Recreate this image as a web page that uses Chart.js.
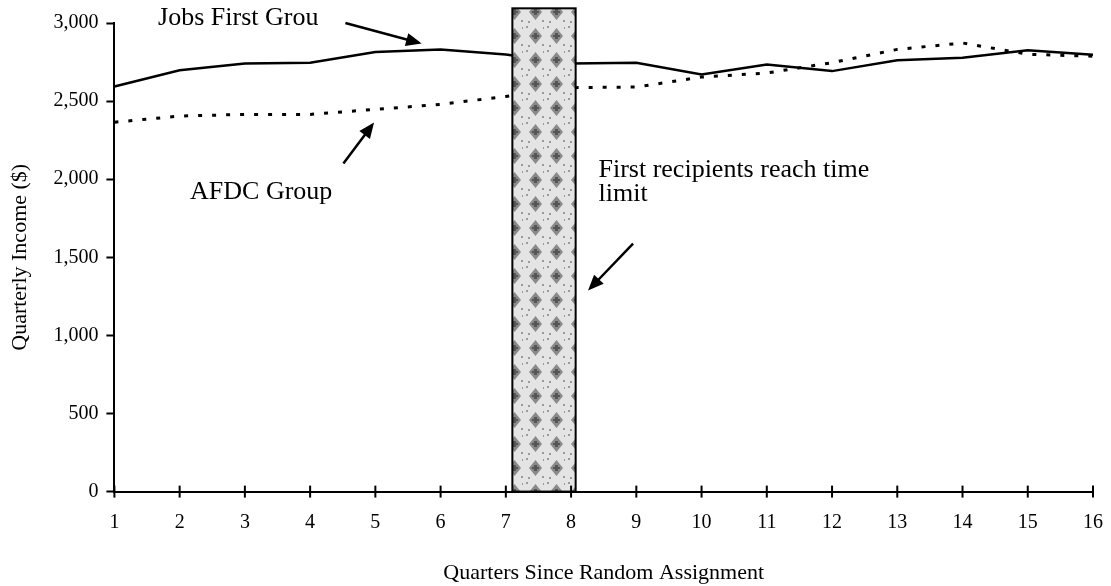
<!DOCTYPE html>
<html lang="en">
<head>
    <meta charset="UTF-8">
    <title>Quarterly Income</title>
    <script src="https://cdn.jsdelivr.net/npm/chart.js"></script>
    <style>
        body { margin: 0; background: #fff; }
        #wrap { width: 1111px; height: 586px; }
    </style>
</head>
<body>
    <div id="wrap"><canvas id="incomeChart"></canvas></div>

    <script>
        // data
        const quarters = [1, 2, 3, 4, 5, 6, 7, 8, 9, 10, 11, 12, 13, 14, 15, 16];
        const jobsFirst = [2594, 2697, 2740, 2746, 2814, 2831, 2799, 2740, 2746, 2671, 2735, 2692, 2761, 2778, 2825, 2797];
        const afdc = [2365, 2404, 2415, 2415, 2447, 2479, 2530, 2586, 2590, 2654, 2680, 2746, 2831, 2872, 2800, 2787];
        const yTicks = [0, 500, 1000, 1500, 2000, 2500, 3000];

        // shaded period: first recipients reach time limit
        const limitStart = 7.1;
        const limitEnd = 8.07;
        const limitTop = 3094;

        // annotations, in data units (quarter, dollars)
        const notes = [
            { text: 'Jobs First Grou', x: 1.67, y: 3028 },
            { text: 'AFDC Group', x: 2.16, y: 1917 },
            { text: 'First recipients reach time', x: 8.42, y: 2056 },
            { text: 'limit', x: 8.42, y: 1902 }
        ];
        const arrows = [
            { from: [4.54, 3000], to: [5.71, 2868] },
            { from: [4.51, 2101], to: [4.98, 2363] },
            { from: [8.95, 1588], to: [8.26, 1287] }
        ];

        const serif = '"Liberation Serif", "Times New Roman", serif';

        function makePattern() {
            const c = document.createElement('canvas');
            c.width = 21; c.height = 24;
            const g = c.getContext('2d');
            g.fillStyle = '#e4e4e4';
            g.fillRect(0, 0, 21, 24);
            g.fillStyle = '#8a8a8a';
            g.beginPath();
            g.moveTo(10.5, 4); g.lineTo(17, 12); g.lineTo(10.5, 20); g.lineTo(4, 12);
            g.closePath();
            g.fill();
            g.fillStyle = '#555';
            g.fillRect(9, 9, 3, 6);
            g.fillRect(7, 11, 7, 2);
            g.fillStyle = '#9a9a9a';
            g.fillRect(1, 2, 2, 2);
            g.fillRect(17, 20, 2, 2);
            g.fillRect(3, 21, 2, 2);
            g.fillRect(18, 3, 1, 2);
            return g.createPattern(c, 'repeat');
        }

        const shadePlugin = {
            id: 'shade',
            afterDatasetsDraw(chart) {
                const { ctx, scales: { x, y } } = chart;
                const left = x.getPixelForValue(limitStart);
                const right = x.getPixelForValue(limitEnd);
                const top = y.getPixelForValue(limitTop);
                const bottom = y.getPixelForValue(0);
                ctx.save();
                ctx.fillStyle = makePattern();
                ctx.fillRect(left, top, right - left, bottom - top);
                ctx.strokeStyle = '#000';
                ctx.lineWidth = 2;
                ctx.strokeRect(left, top, right - left, bottom - top);
                ctx.restore();
            }
        };

        const decorPlugin = {
            id: 'decor',
            afterDraw(chart) {
                const { ctx, scales: { x, y } } = chart;
                ctx.save();
                // cross ticks on the x axis
                const axisY = y.getPixelForValue(0);
                ctx.strokeStyle = '#000';
                ctx.lineWidth = 2;
                quarters.forEach(q => {
                    const px = x.getPixelForValue(q);
                    ctx.beginPath();
                    ctx.moveTo(px, axisY - 6);
                    ctx.lineTo(px, axisY + 6);
                    ctx.stroke();
                });

                ctx.fillStyle = '#000';
                ctx.font = '26px ' + serif;
                ctx.textBaseline = 'middle';
                notes.forEach(n => {
                    ctx.fillText(n.text, x.getPixelForValue(n.x), y.getPixelForValue(n.y));
                });

                ctx.lineWidth = 2.5;
                arrows.forEach(a => {
                    const x1 = x.getPixelForValue(a.from[0]), y1 = y.getPixelForValue(a.from[1]);
                    const x2 = x.getPixelForValue(a.to[0]), y2 = y.getPixelForValue(a.to[1]);
                    const ang = Math.atan2(y2 - y1, x2 - x1);
                    const head = 17;
                    ctx.beginPath();
                    ctx.moveTo(x1, y1);
                    ctx.lineTo(x2 - Math.cos(ang) * head * 0.8, y2 - Math.sin(ang) * head * 0.8);
                    ctx.stroke();
                    ctx.beginPath();
                    ctx.moveTo(x2, y2);
                    ctx.lineTo(x2 - head * Math.cos(ang - 0.4), y2 - head * Math.sin(ang - 0.4));
                    ctx.lineTo(x2 - head * Math.cos(ang + 0.4), y2 - head * Math.sin(ang + 0.4));
                    ctx.closePath();
                    ctx.fill();
                });
                ctx.restore();
            }
        };

        const ctx = document.getElementById('incomeChart').getContext('2d');

        const chart = new Chart(ctx, {
            type: 'line',
            data: {
                datasets: [{
                    label: 'Jobs First Group',
                    data: quarters.map((q, i) => ({ x: q, y: jobsFirst[i] })),
                    borderColor: '#000',
                    borderWidth: 2.5,
                    pointRadius: 0,
                    tension: 0,
                    fill: false
                }, {
                    label: 'AFDC Group',
                    data: quarters.map((q, i) => ({ x: q, y: afdc[i] })),
                    borderColor: '#000',
                    borderWidth: 3,
                    borderDash: [4, 10],
                    pointRadius: 0,
                    tension: 0,
                    fill: false
                }]
            },
            options: {
                responsive: true,
                maintainAspectRatio: false,
                animation: false,
                layout: { padding: { top: 23, right: 18, bottom: 0, left: 7 } },
                plugins: {
                    legend: { display: false },
                    tooltip: { enabled: false }
                },
                scales: {
                    x: {
                        type: 'linear',
                        min: 1,
                        max: 16,
                        afterFit(scale) {
                            scale.paddingRight = 0;
                        },
                        grid: { display: false },
                        border: { display: true, color: '#000', width: 2 },
                        ticks: {
                            stepSize: 1,
                            padding: 11,
                            color: '#000',
                            font: { family: serif, size: 20 }
                        },
                        title: {
                            display: true,
                            text: 'Quarters Since Random Assignment',
                            color: '#000',
                            font: { family: serif, size: 22 },
                            padding: { top: 14, bottom: 0 }
                        }
                    },
                    y: {
                        min: 0,
                        max: 3000,
                        afterBuildTicks(axis) {
                            axis.ticks = yTicks.map(v => ({ value: v }));
                        },
                        afterFit(scale) {
                            scale.paddingTop = 0;
                        },
                        grid: {
                            drawOnChartArea: false,
                            tickLength: 8,
                            tickWidth: 2,
                            tickColor: '#000'
                        },
                        border: { display: true, color: '#000', width: 2 },
                        ticks: {
                            padding: 8,
                            color: '#000',
                            font: { family: serif, size: 20 },
                            callback: v => v.toLocaleString('en-US')
                        },
                        title: {
                            display: true,
                            text: 'Quarterly Income ($)',
                            color: '#000',
                            font: { family: serif, size: 22 },
                            padding: { top: 0, bottom: 12 }
                        }
                    }
                }
            },
            plugins: [shadePlugin, decorPlugin]
        });
    </script>
</body>
</html>
